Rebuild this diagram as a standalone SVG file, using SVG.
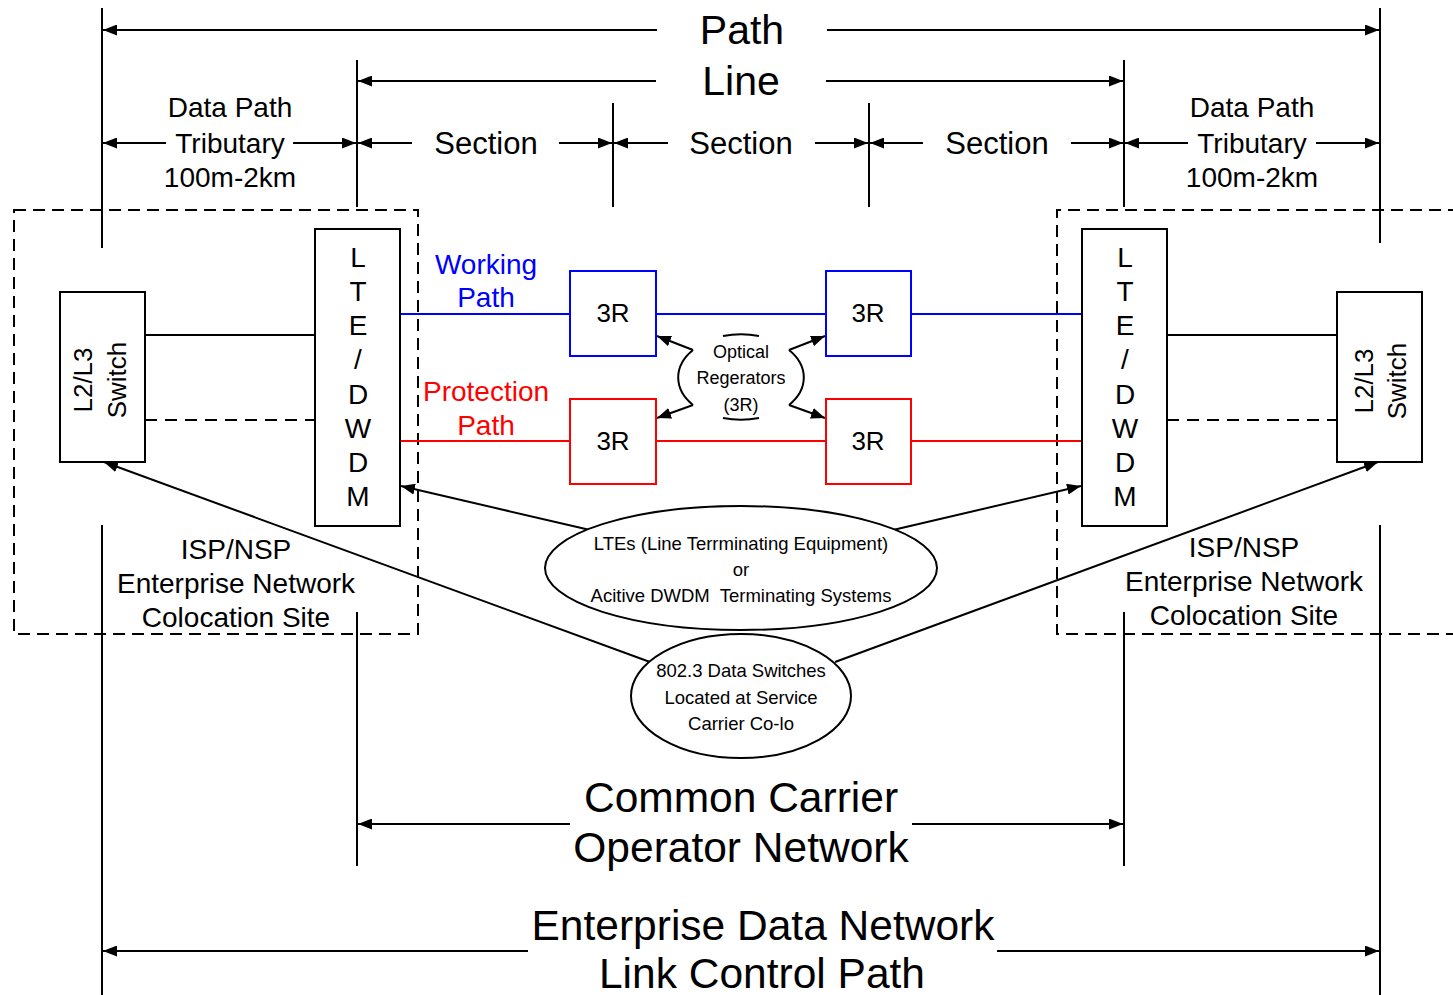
<svg xmlns="http://www.w3.org/2000/svg" width="1453" height="995" viewBox="0 0 1453 995">
<style>
text{font-family:"Liberation Sans",Arial,sans-serif;fill:#000;text-anchor:middle}
.ln{stroke:#000;stroke-width:2;fill:none}
.dim{stroke:#000;stroke-width:2;fill:none}
.box{stroke:#000;stroke-width:2;fill:#fff}
.site{stroke:#000;stroke-width:2;fill:none;stroke-dasharray:12 7}
.dash{stroke:#000;stroke-width:2;fill:none;stroke-dasharray:12 8}
.blue{stroke:#0000FF;stroke-width:2;fill:none}
.red{stroke:#FF0000;stroke-width:2;fill:none}
.bbox{stroke:#0000FF;stroke-width:2;fill:#fff}
.rbox{stroke:#FF0000;stroke-width:2;fill:#fff}
.f40{font-size:41px}
.f42{font-size:42.5px}
.f31{font-size:31px}
.f28{font-size:28px}
.f26{font-size:26px}
.f18{font-size:18px}
.f185{font-size:18.5px}
</style>
<defs>
<marker id="ah" viewBox="0 0 14 11" markerWidth="14" markerHeight="11" refX="14" refY="5.5" orient="auto-start-reverse" markerUnits="userSpaceOnUse">
<path d="M0,0 L14,5.5 L0,11 z" fill="#000"/>
</marker>
</defs>
<rect width="1453" height="995" fill="#fff"/>

<g id="sites">
<rect class="site" x="14" y="210" width="404" height="424"/>
<path class="site" d="M1460,210 H1057 V634 H1460"/>
</g>

<g id="connectors">
<line class="dim" x1="102" y1="8" x2="102" y2="248"/>
<line class="dim" x1="1380" y1="8" x2="1380" y2="243"/>
<line class="dim" x1="357" y1="60" x2="357" y2="207"/>
<line class="dim" x1="1124" y1="60" x2="1124" y2="207"/>
<line class="dim" x1="613" y1="103" x2="613" y2="207"/>
<line class="dim" x1="869" y1="103" x2="869" y2="207"/>
<line class="dim" x1="102" y1="525" x2="102" y2="995"/>
<line class="dim" x1="1380" y1="525" x2="1380" y2="995"/>
<line class="dim" x1="357" y1="612" x2="357" y2="866"/>
<line class="dim" x1="1124" y1="612" x2="1124" y2="866"/>
<line class="dim" x1="657" y1="30" x2="103" y2="30" marker-end="url(#ah)"/>
<line class="dim" x1="827" y1="30" x2="1379" y2="30" marker-end="url(#ah)"/>
<line class="dim" x1="656" y1="81" x2="358" y2="81" marker-end="url(#ah)"/>
<line class="dim" x1="826" y1="81" x2="1123" y2="81" marker-end="url(#ah)"/>
<line class="dim" x1="166" y1="143" x2="103" y2="143" marker-end="url(#ah)"/>
<line class="dim" x1="293" y1="143" x2="356" y2="143" marker-end="url(#ah)"/>
<line class="dim" x1="412" y1="143" x2="358" y2="143" marker-end="url(#ah)"/>
<line class="dim" x1="559" y1="143" x2="612" y2="143" marker-end="url(#ah)"/>
<line class="dim" x1="668" y1="143" x2="614" y2="143" marker-end="url(#ah)"/>
<line class="dim" x1="815" y1="143" x2="868" y2="143" marker-end="url(#ah)"/>
<line class="dim" x1="923" y1="143" x2="870" y2="143" marker-end="url(#ah)"/>
<line class="dim" x1="1071" y1="143" x2="1123" y2="143" marker-end="url(#ah)"/>
<line class="dim" x1="1188" y1="143" x2="1125" y2="143" marker-end="url(#ah)"/>
<line class="dim" x1="1316" y1="143" x2="1379" y2="143" marker-end="url(#ah)"/>
<line class="dim" x1="570" y1="824" x2="358" y2="824" marker-end="url(#ah)"/>
<line class="dim" x1="912" y1="824" x2="1123" y2="824" marker-end="url(#ah)"/>
<line class="dim" x1="528" y1="951" x2="103" y2="951" marker-end="url(#ah)"/>
<line class="dim" x1="997" y1="951" x2="1379" y2="951" marker-end="url(#ah)"/>
<line class="ln" x1="145" y1="335" x2="315" y2="335"/>
<line class="dash" x1="145" y1="420" x2="315" y2="420"/>
<line class="ln" x1="1167" y1="335" x2="1337" y2="335"/>
<line class="dash" x1="1167" y1="420" x2="1337" y2="420"/>
<line class="blue" x1="400" y1="314" x2="570" y2="314"/>
<line class="blue" x1="656" y1="314" x2="826" y2="314"/>
<line class="blue" x1="911" y1="314" x2="1082" y2="314"/>
<line class="red" x1="400" y1="441" x2="570" y2="441"/>
<line class="red" x1="656" y1="441" x2="826" y2="441"/>
<line class="red" x1="911" y1="441" x2="1082" y2="441"/>
<line class="ln" x1="693" y1="350" x2="657" y2="336" marker-end="url(#ah)"/>
<line class="ln" x1="693" y1="405" x2="657" y2="418" marker-end="url(#ah)"/>
<line class="ln" x1="789" y1="350" x2="825" y2="336" marker-end="url(#ah)"/>
<line class="ln" x1="789" y1="405" x2="825" y2="418" marker-end="url(#ah)"/>
<line class="ln" x1="590" y1="530" x2="401" y2="486" marker-end="url(#ah)"/>
<line class="ln" x1="893" y1="530" x2="1081" y2="486" marker-end="url(#ah)"/>
<line class="ln" x1="650" y1="662" x2="104" y2="462" marker-end="url(#ah)"/>
<line class="ln" x1="835" y1="662" x2="1378" y2="462" marker-end="url(#ah)"/>
</g>

<g id="labels">
<text class="f40" x="742" y="44">Path</text>
<text class="f40" x="741" y="95">Line</text>
<text class="f31" x="486" y="154">Section</text>
<text class="f31" x="741" y="154">Section</text>
<text class="f31" x="997" y="154">Section</text>
<text class="f28" x="230" y="117">Data Path</text>
<text class="f28" x="230" y="153">Tributary</text>
<text class="f28" x="230" y="187">100m-2km</text>
<text class="f28" x="1252" y="117">Data Path</text>
<text class="f28" x="1252" y="153">Tributary</text>
<text class="f28" x="1252" y="187">100m-2km</text>
<text class="f28" x="486" y="274" style="fill:#0000FF">Working</text>
<text class="f28" x="486" y="307" style="fill:#0000FF">Path</text>
<text class="f28" x="486" y="401" style="fill:#FF0000">Protection</text>
<text class="f28" x="486" y="435" style="fill:#FF0000">Path</text>
<text class="f28" x="236" y="559">ISP/NSP</text>
<text class="f28" x="236" y="593">Enterprise Network</text>
<text class="f28" x="236" y="627">Colocation Site</text>
<text class="f28" x="1244" y="557">ISP/NSP</text>
<text class="f28" x="1244" y="591">Enterprise Network</text>
<text class="f28" x="1244" y="625">Colocation Site</text>
<text class="f42" x="741" y="812">Common Carrier</text>
<text class="f42" x="741" y="862">Operator Network</text>
<text class="f42" x="763" y="940">Enterprise Data Network</text>
<text class="f42" x="762" y="988">Link Control Path</text>
</g>

<g id="switch-left">
<rect class="box" x="60" y="292" width="85" height="170"/>
<text class="f26" transform="translate(92,380) rotate(-90)">L2/L3</text>
<text class="f26" transform="translate(126,380) rotate(-90)">Switch</text>
</g>

<g id="switch-right">
<rect class="box" x="1337" y="292" width="85" height="170"/>
<text class="f26" transform="translate(1373,381) rotate(-90)">L2/L3</text>
<text class="f26" transform="translate(1406,381) rotate(-90)">Switch</text>
</g>

<g id="lte-left">
<rect class="box" x="315" y="229" width="85" height="297"/>
<text class="f28" x="358" y="267">L</text>
<text class="f28" x="358" y="301">T</text>
<text class="f28" x="358" y="335">E</text>
<text class="f28" x="358" y="369">/</text>
<text class="f28" x="358" y="404">D</text>
<text class="f28" x="358" y="438">W</text>
<text class="f28" x="358" y="472">D</text>
<text class="f28" x="358" y="506">M</text>
</g>

<g id="lte-right">
<rect class="box" x="1082" y="229" width="85" height="297"/>
<text class="f28" x="1125" y="267">L</text>
<text class="f28" x="1125" y="301">T</text>
<text class="f28" x="1125" y="335">E</text>
<text class="f28" x="1125" y="369">/</text>
<text class="f28" x="1125" y="404">D</text>
<text class="f28" x="1125" y="438">W</text>
<text class="f28" x="1125" y="472">D</text>
<text class="f28" x="1125" y="506">M</text>
</g>

<g id="r3-work-1">
<rect class="bbox" x="570" y="271" width="86" height="85"/>
<text class="f26" x="613" y="322">3R</text>
</g>
<g id="r3-work-2">
<rect class="bbox" x="826" y="271" width="85" height="85"/>
<text class="f26" x="868" y="322">3R</text>
</g>
<g id="r3-prot-1">
<rect class="rbox" x="570" y="399" width="86" height="85"/>
<text class="f26" x="613" y="450">3R</text>
</g>
<g id="r3-prot-2">
<rect class="rbox" x="826" y="399" width="85" height="85"/>
<text class="f26" x="868" y="450">3R</text>
</g>

<g id="optical-regenerators">
<path class="ln" d="M693,350 A64,43 0 0 0 693,405"/>
<path class="ln" d="M789,350 A64,43 0 0 1 789,405"/>
<path class="ln" d="M723,336 A64,43 0 0 1 759,336"/>
<path class="ln" d="M723,418 A64,43 0 0 0 759,418"/>
<text class="f18" x="741" y="358">Optical</text>
<text class="f18" x="741" y="384">Regerators</text>
<text class="f18" x="741" y="411">(3R)</text>
</g>

<g id="lte-systems">
<ellipse class="box" cx="741" cy="568" rx="196" ry="62"/>
<text class="f185" x="741" y="550">LTEs (Line Terrminating Equipment)</text>
<text class="f185" x="741" y="576">or</text>
<text class="f185" x="741" y="602" xml:space="preserve">Acitive DWDM  Terminating Systems</text>
</g>

<g id="data-switches">
<ellipse class="box" cx="741" cy="696" rx="110" ry="62"/>
<text class="f185" x="741" y="677">802.3 Data Switches</text>
<text class="f185" x="741" y="704">Located at Service</text>
<text class="f185" x="741" y="730">Carrier Co-lo</text>
</g>
</svg>
